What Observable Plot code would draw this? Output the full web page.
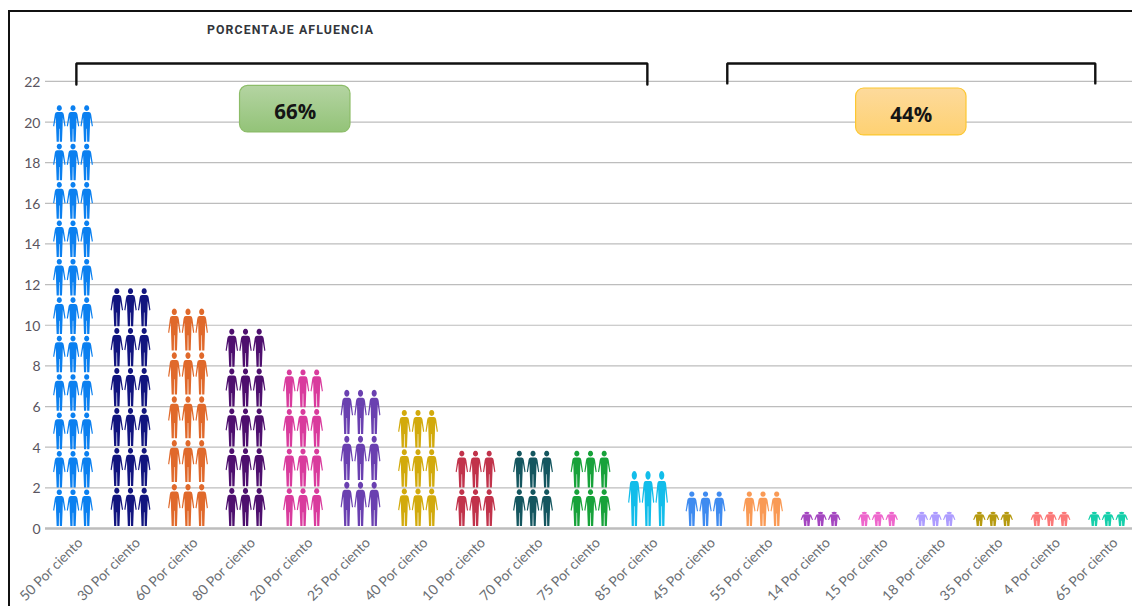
<!DOCTYPE html>
<html lang="es">
<head>
<meta charset="utf-8">
<script src="https://cdn.jsdelivr.net/npm/d3@7"></script>
<script src="https://cdn.jsdelivr.net/npm/@observablehq/plot@0.6"></script>
<style>
  html, body { margin: 0; padding: 0; background: #fff; overflow: hidden; }
  #page { position: relative; width: 1132px; height: 606px; }
  #frame { position: absolute; left: 8px; top: 10px; right: -4px; bottom: -4px; border: 2px solid #111; }
  #title { position: absolute; left: 207px; top: 23px; font: 700 12.3px Roboto, sans-serif; letter-spacing: 1.1px; color: #33363b; white-space: nowrap; }
  svg { display: block; }
</style>
</head>
<body>
<div id="page">
  <div id="chart"></div>
  <div id="frame"></div>
  <div id="title">PORCENTAJE AFLUENCIA</div>
</div>
<script>
// Attendance percentage groups, in the order they are ranked
const categories = ["50 Por ciento", "30 Por ciento", "60 Por ciento", "80 Por ciento", "20 Por ciento",
  "25 Por ciento", "40 Por ciento", "10 Por ciento", "70 Por ciento", "75 Por ciento", "85 Por ciento",
  "45 Por ciento", "55 Por ciento", "14 Por ciento", "15 Por ciento", "18 Por ciento", "35 Por ciento",
  "4 Por ciento", "65 Por ciento"];
const counts = [21, 12, 11, 10, 8, 7, 6, 4, 4, 4, 3, 2, 2, 1, 1, 1, 1, 1, 1];
const rows = [11, 6, 5, 5, 4, 3, 3, 2, 2, 2, 1, 1, 1, 1, 1, 1, 1, 1, 1];
const colors = ["#0b80f0", "#12157f", "#e0692b", "#4e0f6e", "#d93b9d", "#6a40b0", "#d2aa0c", "#c1334b",
  "#14565f", "#17a23a", "#12bdea", "#3f8bf0", "#f99a55", "#a446c0", "#ee66cc", "#ad9cff", "#b69a10",
  "#fb7878", "#14cfaa"];
const yTicks = [0, 2, 4, 6, 8, 10, 12, 14, 16, 18, 20, 22];

// Bracket and badge annotations, in axis units (category index, count)
const brackets = [
  {x1: 0.05, x2: 9.98, top: 22.88, bottom: 21.85},
  {x1: 11.37, x2: 17.77, top: 22.88, bottom: 21.9}
];
const badges = [
  {label: "66%", x1: 2.896, x2: 4.817, y1: 19.49, y2: 21.78, fill: "url(#badge-green)", stroke: "#8cbc68"},
  {label: "44%", x1: 13.61, x2: 15.53, y1: 19.34, y2: 21.65, fill: "url(#badge-yellow)", stroke: "#fcc731"}
];

// Each row of a column holds three figures, stretched to fill the column's height
const figureStep = 0.238, figureHalf = 0.108, baseGap = 0.1, topGap = 0.2, rowGap = 0.09;
const figures = categories.flatMap((name, i) => {
  const pitch = (counts[i] - baseGap - topGap + rowGap) / rows[i];
  return d3.range(rows[i]).flatMap(r => [-1, 0, 1].map(c => ({
    name,
    x1: i + c * figureStep - figureHalf,
    x2: i + c * figureStep + figureHalf,
    y1: baseGap + r * pitch,
    y2: baseGap + (r + 1) * pitch - rowGap
  })));
});

// Person glyph in a 13 x 36 box
const personPath = "M6.5 0A2.7 2.8 0 1 1 6.49 0Z" +
  "M4 6.5H9Q11 6.7 11.2 9L13 20.5L11.9 21L10.2 12L9.9 21.5L9.3 36H7L6.75 23H6.25L6 36H3.7L3.1 21.5L2.8 12L1.1 21L0 20.5L1.8 9Q2 6.7 4 6.5Z";

// Swap each rect Plot positioned for a person glyph of the same box and colour
function personRender(index, scales, values, dimensions, context, next) {
  const g = next(index, scales, values, dimensions, context);
  d3.select(g).selectAll("rect").each(function() {
    const r = d3.select(this);
    const [x, y, w, h] = ["x", "y", "width", "height"].map(a => +r.attr(a));
    d3.select(g).append("path")
      .attr("d", personPath)
      .attr("fill", r.attr("fill"))
      .attr("transform", `translate(${x},${y}) scale(${w / 13},${h / 36})`);
    r.remove();
  });
  return g;
}

// Vertical gradients used by the two badges
function gradients() {
  const defs = d3.create("svg:defs");
  [["badge-green", "#b4d4a2", "#93c378"], ["badge-yellow", "#fdda9c", "#fed172"]].forEach(([id, a, b]) => {
    const g = defs.append("linearGradient").attr("id", id).attr("x1", 0).attr("y1", 0).attr("x2", 0).attr("y2", 1);
    g.append("stop").attr("offset", 0).attr("stop-color", a);
    g.append("stop").attr("offset", 1).attr("stop-color", b);
  });
  return defs.node();
}

const bracketPath = b => [
  {x: b.x1, y: b.bottom}, {x: b.x1, y: b.top}, {x: b.x2, y: b.top}, {x: b.x2, y: b.bottom}
];

const chart = Plot.plot({
  width: 1132,
  height: 606,
  marginLeft: 45,
  marginRight: 0,
  marginTop: 0,
  marginBottom: 78,
  style: {background: "#fff", fontFamily: "Lato, sans-serif"},
  x: {type: "linear", domain: [-0.487, 18.417], axis: null},
  y: {domain: [0, 25.98], axis: null},
  color: {type: "ordinal", domain: categories, range: colors},
  marks: [
    gradients,
    Plot.ruleY(yTicks.filter(d => d > 0), {stroke: "#bdbdbd", strokeWidth: 1.2}),
    Plot.ruleY([0], {stroke: "#bdbdbd", strokeWidth: 2.4}),
    Plot.axisY({ticks: yTicks, tickSize: 0, tickPadding: 5, fontSize: 14, dy: 1, color: "#5a5560", label: null}),
    Plot.axisX({
      ticks: d3.range(categories.length),
      tickFormat: i => categories[i],
      tickRotate: -45,
      tickSize: 0,
      tickPadding: 12,
      dx: 7,
      fontSize: 14,
      color: "#6a6e73",
      label: null
    }),
    Plot.rect(figures, {x1: "x1", x2: "x2", y1: "y1", y2: "y2", fill: "name", render: personRender}),
    ...brackets.map(b => Plot.line(bracketPath(b), {
      x: "x", y: "y", stroke: "#111", strokeWidth: 2.4, strokeLinejoin: "miter", curve: "linear"
    })),
    Plot.rect(badges, {x1: "x1", x2: "x2", y1: "y1", y2: "y2", fill: d => d.fill, stroke: d => d.stroke, strokeWidth: 1.2, rx: 8}),
    Plot.text(badges, {
      x: d => (d.x1 + d.x2) / 2,
      y: d => (d.y1 + d.y2) / 2,
      text: "label",
      dy: 3,
      fontSize: 20.5,
      fontWeight: 700,
      fontFamily: "'Open Sans', sans-serif",
      fill: "#151515"
    })
  ]
});
document.getElementById("chart").append(chart);
</script>
</body>
</html>
